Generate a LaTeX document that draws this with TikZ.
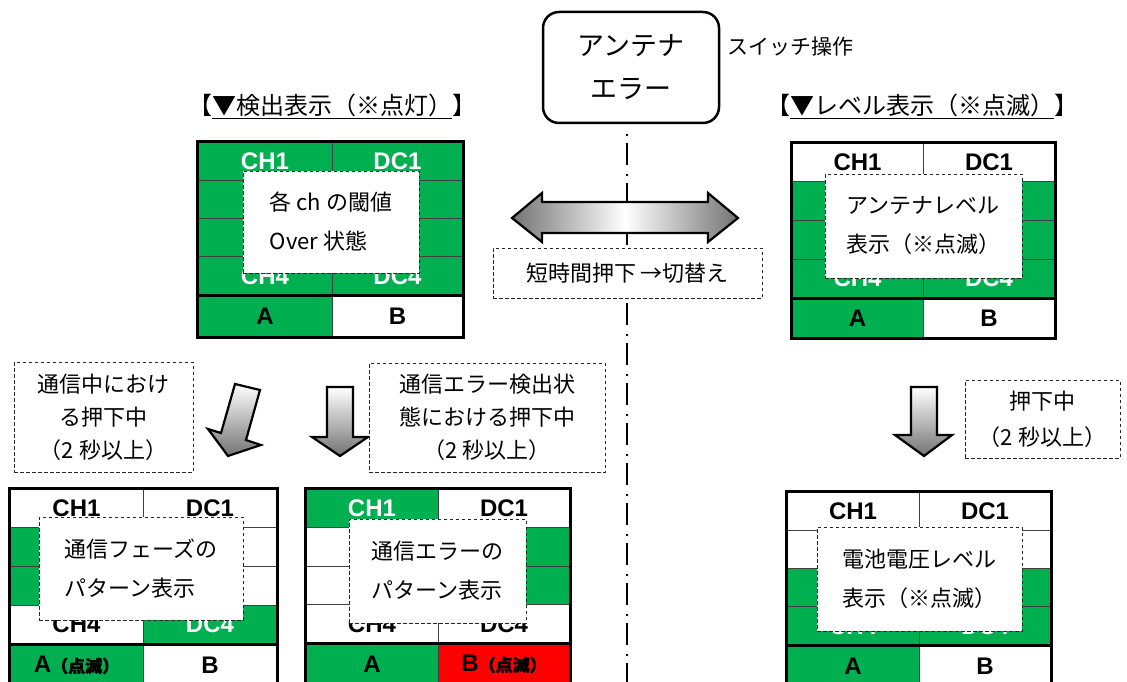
\documentclass[tikz,border=0pt]{standalone}
\usepackage{fontspec}
\setmainfont{Liberation Sans}
\newfontfamily\jp{Noto Sans CJK JP}
\newfontfamily\jpb{Noto Sans CJK JP}[FakeBold=2]
\definecolor{xgreen}{RGB}{0,176,80}
\definecolor{xred}{RGB}{255,0,0}
\tikzset{
  cellb/.style={draw=black!75, line width=1pt, inner sep=0pt, font=\fontsize{24}{24}\selectfont\bfseries},
  frame/.style={line width=3pt},
  popup/.style={draw=black!85, line width=0.9pt, dash pattern=on 3.5pt off 2.5pt, fill=white, inner sep=0pt, align=left, font=\jp\fontsize{22}{39}\selectfont},
  lbl/.style={draw=black!85, line width=0.9pt, dash pattern=on 3.5pt off 2.5pt, fill=white, inner sep=0pt, align=center},
  fatarrow/.style={draw=black, line width=2.2pt, line join=miter, top color=white, bottom color=black!55},
  dblarrow/.style={draw=black, line width=2.2pt, line join=miter, left color=black!55, right color=black!55, middle color=white},
  dashdot/.style={line width=1.6pt, dash pattern=on 2pt off 7pt on 22pt off 9pt},
  ttl/.style={inner sep=0pt, font=\jp\fontsize{24}{24}\selectfont},
}
\newcommand\setpanel[6]{\def\PL{#1}\def\PM{#2}\def\PR{#3}\def\PT{#4}\def\PH{#5}\def\PB{#6}}
\newcommand\prow[8]{%
  \pgfmathsetmacro\ry{\PT+(#2-0.5)*\PH}%
  \pgfmathsetmacro\lx{(\PL+\PM)/2}\pgfmathsetmacro\rx{(\PM+\PR)/2}%
  \pgfmathsetmacro\lw{\PM-\PL}\pgfmathsetmacro\rw{\PR-\PM}%
  \node[cellb,fill=#3,text=#4,minimum width=\lw pt,minimum height=\PH pt] (#1c#2) at (\lx,\ry) {#7};
  \node[cellb,fill=#5,text=#6,minimum width=\rw pt,minimum height=\PH pt] (#1d#2) at (\rx,\ry) {#8};
}
\newcommand\pab[5]{%
  \pgfmathsetmacro\ry{\PT+4*\PH+\PB/2}%
  \pgfmathsetmacro\lx{(\PL+\PM)/2}\pgfmathsetmacro\rx{(\PM+\PR)/2}%
  \pgfmathsetmacro\lw{\PM-\PL}\pgfmathsetmacro\rw{\PR-\PM}%
  \node[cellb,fill=#2,text=black,minimum width=\lw pt,minimum height=\PB pt] (#1a) at (\lx,\ry) {#3};
  \node[cellb,fill=#4,text=black,minimum width=\rw pt,minimum height=\PB pt] (#1b) at (\rx,\ry) {#5};
  \draw[frame] (#1c1.north west) rectangle (#1b.south east);
  \draw[frame] (#1c4.south west) -- (#1d4.south east);
}
\newcommand\blink{{\jpb\fontsize{17}{17}\selectfont （点滅）}}
\begin{document}
\begin{tikzpicture}[x=1pt,y=-1pt]
\clip (0,0) rectangle (1127,682);
\fill[white] (0,0) rectangle (1127,682);

% centre dash-dot line
\coordinate (dtop) at (627,134);
\coordinate (dbot) at (627,690);
\draw[dashdot] (dtop) -- (dbot);

% antenna box
\node[draw, line width=2.5pt, rounded corners=16pt, minimum width=176pt, minimum height=111pt, inner sep=0pt, align=center, font=\jp\fontsize{27}{43}\selectfont] (ant) at (631,67.5) {アンテナ\\エラー};
\node[inner sep=0pt, anchor=west, font=\jp\fontsize{21}{21}\selectfont] (sw) at (727,47) {スイッチ操作};

% titles
\node[ttl] (t1) at (332,106) {【\underline{▼検出表示（※点灯）}】};
\node[ttl] (t2) at (922,106) {【\underline{▼レベル表示（※点滅）}】};

% double arrow and label
\draw[dblarrow] (512,218) -- (542,193) -- (542,202) -- (708,202) -- (708,193) -- (738,218) -- (708,242) -- (708,233) -- (542,233) -- (542,242) -- cycle;
\node[lbl, minimum width=269pt, minimum height=50pt, font=\jp\fontsize{22}{22}\selectfont] (l4) at (627.5,273) {短時間押下 →切替え};

% panel 1 (top left)
\setpanel{198}{332}{463}{142}{38.25}{42}
\prow{p1}{1}{xgreen}{white}{xgreen}{white}{CH1}{DC1}
\prow{p1}{2}{xgreen}{white}{xgreen}{white}{}{}
\prow{p1}{3}{xgreen}{white}{xgreen}{white}{}{}
\prow{p1}{4}{xgreen}{white}{xgreen}{white}{CH4}{DC4}
\pab{p1}{xgreen}{A}{white}{B}
\node[popup, minimum width=176pt, minimum height=102pt] (pp1) at (331,222) {各 ch の閾値\\Over 状態};

% panel 2 (top right)
\setpanel{792}{923}{1055}{143}{38.75}{40}
\prow{p2}{1}{white}{black}{white}{black}{CH1}{DC1}
\prow{p2}{2}{xgreen}{white}{xgreen}{white}{}{}
\prow{p2}{3}{xgreen}{white}{xgreen}{white}{}{}
\prow{p2}{4}{xgreen}{white}{xgreen}{white}{CH4}{DC4}
\pab{p2}{xgreen}{A}{white}{B}
\node[popup, minimum width=197pt, minimum height=104pt] (pp2) at (923.5,226) {アンテナレベル\\表示（※点滅）};

% panel 3 (bottom left)
\setpanel{10}{143}{277}{489}{38.75}{42}
\prow{p3}{1}{white}{black}{white}{black}{CH1}{DC1}
\prow{p3}{2}{xgreen}{white}{white}{black}{}{}
\prow{p3}{3}{xgreen}{white}{white}{black}{}{}
\prow{p3}{4}{white}{black}{xgreen}{white}{CH4}{DC4}
\pab{p3}{xgreen}{A\blink}{white}{B}
\node[popup, minimum width=204pt, minimum height=103pt] (pp3) at (141,568.5) {通信フェーズの\\パターン表示};

% panel 4 (bottom middle)
\setpanel{306}{438}{570}{489}{38.5}{42}
\prow{p4}{1}{xgreen}{white}{white}{black}{CH1}{DC1}
\prow{p4}{2}{white}{black}{xgreen}{white}{}{}
\prow{p4}{3}{white}{black}{xgreen}{white}{}{}
\prow{p4}{4}{white}{black}{white}{black}{CH4}{DC4}
\pab{p4}{xgreen}{A}{xred}{B\blink}
\node[popup, minimum width=177pt, minimum height=104pt] (pp4) at (437.5,571) {通信エラーの\\パターン表示};

% panel 5 (bottom right)
\setpanel{787}{919}{1051}{492}{38.25}{42}
\prow{p5}{1}{white}{black}{white}{black}{CH1}{DC1}
\prow{p5}{2}{white}{black}{white}{black}{}{}
\prow{p5}{3}{xgreen}{white}{xgreen}{white}{}{}
\prow{p5}{4}{xgreen}{white}{xgreen}{white}{CH4}{DC4}
\pab{p5}{xgreen}{A}{white}{B}
\node[popup, minimum width=205pt, minimum height=104pt] (pp5) at (919.5,579) {電池電圧レベル\\表示（※点滅）};

% down arrows
\draw[fatarrow] (235,384) -- (260,390) -- (246,440) -- (261,445) -- (228,456) -- (208,429) -- (221,433) -- cycle;
\draw[fatarrow] (327,387) -- (353,387) -- (353,437) -- (368,437) -- (340,456) -- (312,437) -- (327,437) -- cycle;
\draw[fatarrow] (911,387) -- (937,387) -- (937,435) -- (952,435) -- (924,456) -- (895,435) -- (911,435) -- cycle;

% labels
\node[lbl, minimum width=179pt, minimum height=110pt, font=\jp\fontsize{22}{33}\selectfont] (l1) at (103.5,417) {通信中におけ\\る押下中\\（2 秒以上）};
\node[lbl, minimum width=236pt, minimum height=109pt, font=\jp\fontsize{22}{33}\selectfont] (l2) at (487,417.5) {通信エラー検出状\\態における押下中\\（2 秒以上）};
\node[lbl, minimum width=155pt, minimum height=78pt, font=\jp\fontsize{22}{36}\selectfont] (l3) at (1042.5,419) {押下中\\（2 秒以上）};
\end{tikzpicture}
\end{document}
